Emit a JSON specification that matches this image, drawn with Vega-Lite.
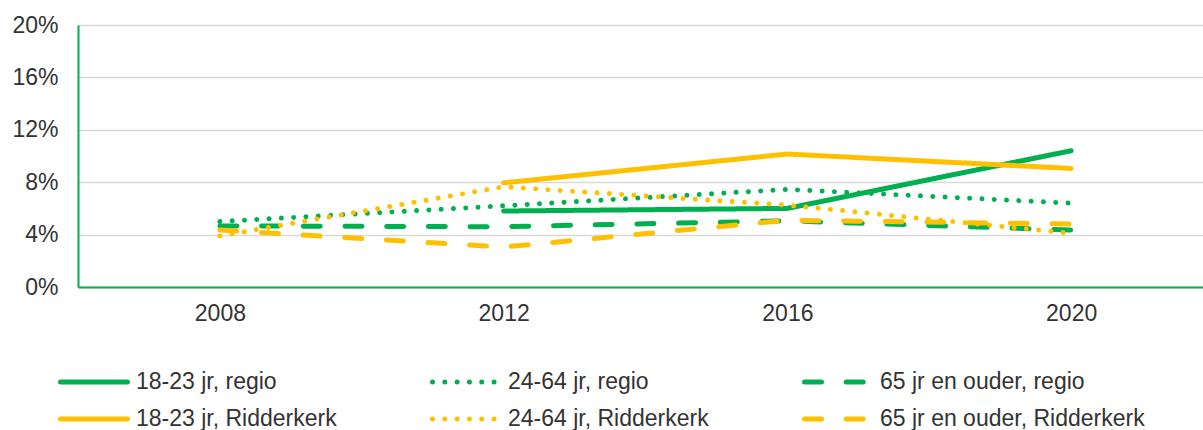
{
  "$schema": "https://vega.github.io/schema/vega-lite/v6.json",
  "width": 1135,
  "height": 262,
  "autosize": {"type": "none"},
  "padding": {"left": 78, "top": 25, "right": 0, "bottom": 143},
  "background": "white",
  "config": {"view": {"stroke": null}, "font": "Liberation Sans"},
  "data": {
    "values": [
      {"year": "2012", "series": "18-23 jr, regio", "value": 0.058},
      {"year": "2016", "series": "18-23 jr, regio", "value": 0.060},
      {"year": "2020", "series": "18-23 jr, regio", "value": 0.104},
      {"year": "2008", "series": "24-64 jr, regio", "value": 0.050},
      {"year": "2012", "series": "24-64 jr, regio", "value": 0.062},
      {"year": "2016", "series": "24-64 jr, regio", "value": 0.0745},
      {"year": "2020", "series": "24-64 jr, regio", "value": 0.064},
      {"year": "2008", "series": "65 jr en ouder, regio", "value": 0.0466},
      {"year": "2012", "series": "65 jr en ouder, regio", "value": 0.046},
      {"year": "2016", "series": "65 jr en ouder, regio", "value": 0.0505},
      {"year": "2020", "series": "65 jr en ouder, regio", "value": 0.0435},
      {"year": "2012", "series": "18-23 jr, Ridderkerk", "value": 0.0795},
      {"year": "2016", "series": "18-23 jr, Ridderkerk", "value": 0.1015},
      {"year": "2020", "series": "18-23 jr, Ridderkerk", "value": 0.0905},
      {"year": "2008", "series": "24-64 jr, Ridderkerk", "value": 0.039},
      {"year": "2012", "series": "24-64 jr, Ridderkerk", "value": 0.0765},
      {"year": "2016", "series": "24-64 jr, Ridderkerk", "value": 0.0625},
      {"year": "2020", "series": "24-64 jr, Ridderkerk", "value": 0.041},
      {"year": "2008", "series": "65 jr en ouder, Ridderkerk", "value": 0.0435},
      {"year": "2012", "series": "65 jr en ouder, Ridderkerk", "value": 0.0305},
      {"year": "2016", "series": "65 jr en ouder, Ridderkerk", "value": 0.051},
      {"year": "2020", "series": "65 jr en ouder, Ridderkerk", "value": 0.048}
    ]
  },
  "mark": {"type": "line", "strokeWidth": 5, "strokeCap": "round", "strokeJoin": "round"},
  "encoding": {
    "x": {
      "field": "year",
      "type": "ordinal",
      "scale": {"type": "point", "padding": 0.5},
      "axis": {
        "title": null,
        "labelAngle": 0,
        "labelFontSize": 23,
        "labelColor": "#333333",
        "labelPadding": 15,
        "ticks": false,
        "tickSize": 0,
        "domainColor": "#00B050",
        "domainWidth": 2,
        "grid": false
      }
    },
    "y": {
      "field": "value",
      "type": "quantitative",
      "scale": {"domain": [0, 0.2]},
      "axis": {
        "title": null,
        "values": [0, 0.04, 0.08, 0.12, 0.16, 0.2],
        "format": ".0%",
        "labelFontSize": 23,
        "labelColor": "#333333",
        "labelPadding": 20,
        "ticks": false,
        "tickSize": 0,
        "domainColor": "#00B050",
        "domainWidth": 2,
        "grid": true,
        "gridColor": "#D9D9D9",
        "gridWidth": 1.5
      }
    },
    "color": {
      "field": "series",
      "type": "nominal",
      "scale": {
        "domain": ["18-23 jr, regio", "24-64 jr, regio", "65 jr en ouder, regio", "18-23 jr, Ridderkerk", "24-64 jr, Ridderkerk", "65 jr en ouder, Ridderkerk"],
        "range": ["#00B050", "#00B050", "#00B050", "#FFC000", "#FFC000", "#FFC000"]
      },
      "legend": {
        "title": null,
        "orient": "none",
        "direction": "horizontal",
        "legendX": -20,
        "legendY": 345,
        "columns": 3,
        "columnPadding": 93,
        "rowPadding": 13,
        "clipHeight": 24,
        "symbolType": "stroke",
        "symbolSize": 4489,
        "symbolStrokeWidth": 5,
        "labelFontSize": 23,
        "labelColor": "#333333",
        "labelOffset": 6,
        "labelLimit": 400,
        "encode": {"symbols": {"update": {"strokeCap": {"value": "round"}}}}
      }
    },
    "strokeDash": {
      "field": "series",
      "type": "nominal",
      "scale": {
        "domain": ["18-23 jr, regio", "24-64 jr, regio", "65 jr en ouder, regio", "18-23 jr, Ridderkerk", "24-64 jr, Ridderkerk", "65 jr en ouder, Ridderkerk"],
        "range": [[1, 0], [0.01, 12.3], [17, 24.7], [1, 0], [0.01, 12.3], [17, 24.7]]
      },
      "legend": {
        "title": null,
        "orient": "none",
        "direction": "horizontal",
        "legendX": -20,
        "legendY": 345,
        "columns": 3,
        "columnPadding": 93,
        "rowPadding": 13,
        "clipHeight": 24,
        "symbolType": "stroke",
        "symbolSize": 4489,
        "symbolStrokeWidth": 5,
        "labelFontSize": 23,
        "labelColor": "#333333",
        "labelOffset": 6,
        "labelLimit": 400,
        "encode": {"symbols": {"update": {"strokeCap": {"value": "round"}}}}
      }
    }
  }
}
